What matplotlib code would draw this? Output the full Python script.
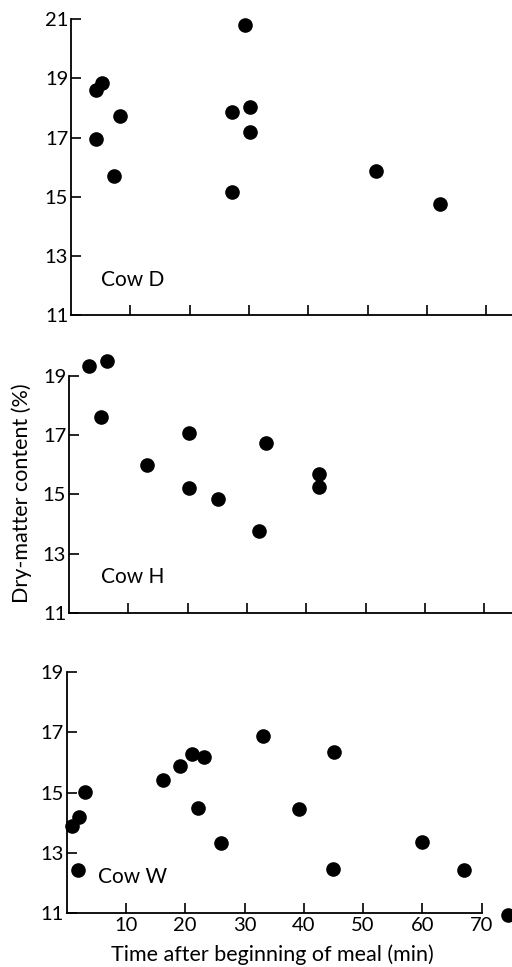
import matplotlib
matplotlib.use("Agg")
import matplotlib.pyplot as plt

plt.rcParams['font.family'] = ['Lato', 'DejaVu Sans']

# Cow D
d_time = [29.4, 5.3, 4.2, 8.3, 4.3, 7.2, 27.1, 30.2, 30.2, 27.1, 51.4, 62.2]
d_dm = [20.8, 18.84, 18.61, 17.73, 16.94, 15.71, 17.87, 18.04, 17.18, 15.17, 15.87, 14.75]
# Cow H
h_time = [3.4, 6.4, 5.35, 13.1, 20.2, 20.2, 25.05, 33.2, 32.0, 42.2, 42.2]
h_dm = [19.33, 19.51, 17.62, 15.99, 17.06, 15.22, 14.83, 16.72, 13.75, 15.69, 15.26]
# Cow W
w_time = [33.1, 45.1, 21.1, 23.2, 19.1, 16.3, 3.15, 2.1, 0.86, 22.1, 39.2, 26.0, 60.0, 1.87, 45.0, 67.0, 74.5]
w_dm = [16.86, 16.35, 16.26, 16.19, 15.88, 15.40, 15.02, 14.20, 13.89, 14.50, 14.44, 13.32, 13.36, 12.44, 12.48, 12.44, 10.95]

cows = ["Cow D", "Cow H", "Cow W"]
yticks_list = [[11, 13, 15, 17, 19, 21], [11, 13, 15, 17, 19], [11, 13, 15, 17, 19]]
xticks = [10, 20, 30, 40, 50, 60, 70]
xlabels = ["10", "20", "30", "40", "50", "60", "70"]

W, H = 512, 967
fig = plt.figure(figsize=(W / 100, H / 100), dpi=100)

# axes rectangles in pixels: left, top, bottom
rects = [(71, 19.3, 315.0), (69, 376.0, 612.7), (66.6, 671.7, 913.3)]
label_pos = [(101, 280), (101, 577), (98, 877)]
datasets = [(d_time, d_dm), (h_time, h_dm), (w_time, w_dm)]

for i, ((l, t, b), (xs, ys), yt, name) in enumerate(zip(rects, datasets, yticks_list, cows)):
    width_px = 5.93 * 75
    ax = fig.add_axes([l / W, 1 - b / H, width_px / W, (b - t) / H])
    ax.set_xlim(0, 75)
    ax.set_ylim(yt[0], yt[-1])
    ax.plot(xs, ys, 'o', color='black', markersize=9.5, clip_on=False, zorder=5)
    ax.spines['top'].set_visible(False)
    ax.spines['right'].set_visible(False)
    ax.spines['left'].set_linewidth(1.3)
    ax.spines['bottom'].set_linewidth(1.3)
    ax.set_yticks(yt)
    ax.set_yticklabels([str(v) for v in yt], fontsize=14.5)
    ax.set_xticks(xticks)
    ax.tick_params(direction='in', length=7, width=1.2, pad=2)
    if i < 2:
        ax.set_xticklabels([])
    else:
        ax.set_xticklabels(xlabels, fontsize=14.5)
        ax.tick_params(axis='x', pad=3)
        ax.spines['bottom'].set_bounds(0, 70)
    fig.text(label_pos[i][0] / W, 1 - label_pos[i][1] / H, name, fontsize=15,
             va='center', ha='left')

fig.text(272 / W, 1 - 955 / H, "Time after beginning of meal (min)",
         fontsize=15.5, va='center', ha='center')
fig.text(22 / W, 1 - 493 / H, "Dry-matter content (%)", rotation=90,
         fontsize=15.5, va='center', ha='center')

fig.savefig("out.png", dpi=100)
